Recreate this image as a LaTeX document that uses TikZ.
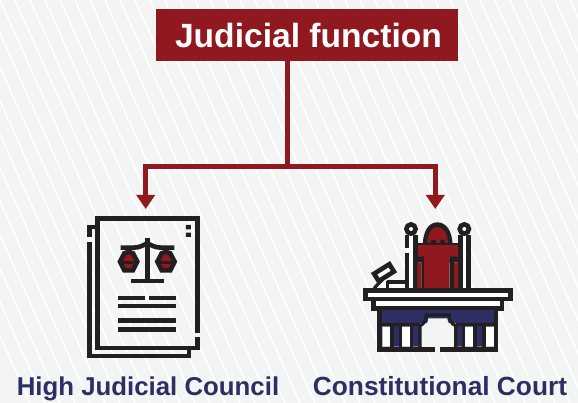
\documentclass[tikz,border=0pt]{standalone}
\usepackage{fontspec}
\usepackage{xcolor}
\setmainfont{Liberation Sans}
\usetikzlibrary{arrows.meta}
\definecolor{judred}{HTML}{8F191E}
\definecolor{judnavy}{HTML}{2B2F63}
\definecolor{judink}{HTML}{231F20}
\definecolor{judback}{HTML}{F3F5F5}
\begin{document}
\begin{tikzpicture}[x=1pt,y=-1pt,
    titlebox/.style={fill=judred, text=white, font=\bfseries\fontsize{33.6}{34}\selectfont, minimum width=302pt, minimum height=52pt, inner sep=0pt},
    iconlabel/.style={text=judnavy, font=\bfseries\fontsize{25.8}{26}\selectfont, inner sep=0pt, anchor=base},
    branchline/.style={draw=judred, line width=4.5pt},
    tiparrow/.style={branchline, -{Triangle[width=18pt,length=14pt]}},
    ink/.style={draw=judink, line width=4.6pt},
    thinink/.style={draw=judink, line width=3.2pt},
    stripe/.style={draw=white, line width=1.6pt}]
\useasboundingbox (0,0) rectangle (578,403);
\fill[judback] (0,0) rectangle (578,403);
\begin{scope}
\clip (0,0) rectangle (578,403);
\foreach \i in {-10,...,40} \draw[stripe] (\i*15,0) -- (\i*15+180,403);
\end{scope}

\node[titlebox] (title) at (307,35) {\hspace*{3pt}Judicial function};
\coordinate (branch) at (287.7,166.7);
\coordinate (councilicon) at (145.7,209);
\coordinate (courticon) at (435.3,209);
\draw[branchline] (title.south -| branch) -- (branch);
\draw[tiparrow] (branch) -| (councilicon);
\draw[tiparrow] (branch) -| (courticon);

\node[iconlabel] (council) at (148,395) {High Judicial Council};
\node[iconlabel, font=\bfseries\fontsize{26.3}{26}\selectfont] (court) at (440,395) {Constitutional Court};

\begin{scope}[shift={(70,200)},x=.3333pt,y=-.3333pt]
\draw[ink] (382,400) -- (382,56) -- (83,56) -- (83,444) -- (382,444) -- (382,412);
\draw[ink] (83,81) -- (58,81) -- (58,112);
\draw[ink] (58,125) -- (58,468) -- (357,468) -- (357,444);
\fill[judink] (348,75) rectangle (363,88) (348,98) rectangle (363,111);
\draw[ink] (232,113) -- (232,243) (183,243) -- (282,243);
\draw[ink] (152,143) -- (190,143) .. controls (210,143) and (220,135) .. (232,130) .. controls (244,135) and (254,143) .. (274,143) -- (313,143);
\foreach \px in {176,288} {
  \draw[ink, fill=judred] (\px,155) -- (\px+13,160) -- (\px+26,185) -- (\px+13,211) -- (\px-13,211) -- (\px-26,185) -- (\px-13,160) -- cycle;
  \draw[thinink] (\px-26,188) -- (\px+26,188);
}
\draw[ink] (144,294) -- (225,294) (237,294) -- (318,294) (144,318) -- (318,318) (144,361) -- (318,361) (144,388) -- (318,388);
\end{scope}

\begin{scope}[shift={(350,205)},x=.3333pt,y=-.3333pt]
\fill[white] (171,90) rectangle (196,250) (331,90) rectangle (356,250);
\draw[ink] (196,90) -- (196,250) (171,90) -- (171,130) (171,143) -- (171,250);
\draw[ink] (331,90) -- (331,250) (356,90) -- (356,250);
\draw[ink, fill=white] (183,72) circle (4.6pt);
\draw[ink, fill=white] (343,72) circle (4.6pt);
\fill[judink] (218,125) .. controls (218,75) and (238,52) .. (262,52) .. controls (287,52) and (308,75) .. (308,125) -- cycle;
\fill[judred] (232,120) .. controls (232,85) and (245,66) .. (262,66) .. controls (280,66) and (294,85) .. (294,120) -- cycle;
\fill[judink] (204,115) rectangle (323,119);
\fill[judred] (204,119) rectangle (323,155);
\fill[judred] (222,150) rectangle (298,250);
\fill[judink] (202,155) rectangle (222,172) (298,155) rectangle (324,172);
\fill[judred] (202,172) rectangle (214,250) (312,172) rectangle (324,250);
\fill[judink] (214,158) rectangle (222,250) (298,158) rectangle (312,250);
\fill[judink] (243,105) rectangle (257,119) (271,105) rectangle (285,119);
\draw[ink, fill=white, rotate around={32:(102,203)}] (75,190) rectangle (129,216);
\draw[thinink] (72,250) -- (97,224);
\fill[white] (87,250) -- (102,232) -- (110,250) -- cycle;
\draw[thinink] (112,228) -- (112,250);
\fill[white] (125,238) rectangle (165,250);
\draw[ink] (112,231) -- (167,231);
\draw[ink, fill=white] (71,282) rectangle (456,310);
\draw[ink, fill=white] (46,256) rectangle (481,282);
\fill[judnavy] (92,316) rectangle (436,354);
\fill[judnavy] (92,354) rectangle (210,425) (318,354) rectangle (436,425);
\fill[white] (97,365) rectangle (122,425) (155,365) rectangle (180,425) (345,365) rectangle (370,425) (407,365) rectangle (432,425);
\fill[judback] (215,428) -- (215,370) .. controls (228,365) and (235,350) .. (235,340) -- (292,340) .. controls (292,350) and (300,365) .. (312,370) -- (312,428) -- cycle;
\draw[thinink] (210,433) -- (210,362) .. controls (222,358) and (229,345) .. (229,330) -- (298,330) .. controls (298,345) and (305,358) .. (317,362) -- (317,433);
\draw[thinink] (92,358) -- (210,358) (317,358) -- (436,358);
\draw[thinink] (126,358) -- (126,433) (151,358) -- (151,433) (185,358) -- (185,433) (341,358) -- (341,433) (375,358) -- (375,433) (402,358) -- (402,433);
\draw[ink] (255,433) -- (89,433) -- (89,310) (270,433) -- (438,433) -- (438,310);
\end{scope}
\end{tikzpicture}
\end{document}
